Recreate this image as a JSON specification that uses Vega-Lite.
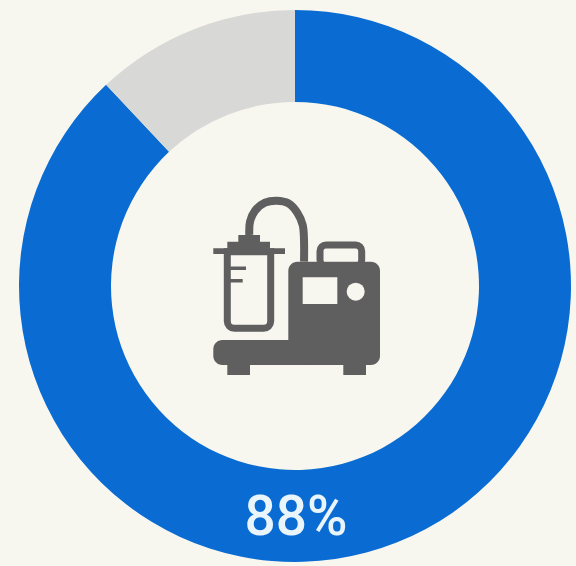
{
  "$schema": "https://vega.github.io/schema/vega-lite/v6.json",
  "width": 562,
  "height": 560,
  "padding": {"left": 14, "top": 6, "right": 0, "bottom": 0},
  "background": "#f8f7ef",
  "view": {"stroke": null},
  "datasets": {
    "share": [
      {"segment": "Yes", "percent": 88},
      {"segment": "No", "percent": 12}
    ],
    "label": [{"text": "88%", "px": 1, "py": 232}],
    "solid": [
      {"part": "pump", "x0": -6.7, "x1": 85, "y0": -24.3, "y1": 79},
      {"part": "base", "x0": -81.7, "x1": 20, "y0": 54, "y1": 79}
    ],
    "blocks": [
      {"part": "foot left", "x0": -67.7, "x1": -45, "y0": 76, "y1": 89},
      {"part": "foot right", "x0": 48.3, "x1": 71, "y0": 76, "y1": 89},
      {"part": "lid bar", "x0": -81.7, "x1": -10, "y0": -37.7, "y1": -32},
      {"part": "lid middle", "x0": -67.7, "x1": -25, "y0": -44.3, "y1": -37},
      {"part": "lid top", "x0": -56.7, "x1": -35, "y0": -51, "y1": -44},
      {"part": "level high", "x0": -65, "x1": -49, "y0": -19.5, "y1": -16},
      {"part": "level low", "x0": -65, "x1": -52.3, "y0": -7, "y1": -3.5}
    ],
    "screen": [{"part": "screen", "x0": 7.7, "x1": 42.3, "y0": -8.7, "y1": 18}],
    "knob": [{"part": "knob", "px": 60.7, "py": 5.7}],
    "handle": [{"part": "handle", "x0": 25, "x1": 66.7, "y0": -41, "y1": -20}],
    "jar": [{"part": "jar", "x0": -67.7, "x1": -24.3, "y0": -34.3, "y1": 42.3}],
    "tube": [
      {"step": 1, "px": -45.7, "py": -51},
      {"step": 2, "px": -45, "py": -64.3},
      {"step": 3, "px": -40, "py": -75.3},
      {"step": 4, "px": -30, "py": -83.3},
      {"step": 5, "px": -18.3, "py": -85.3},
      {"step": 6, "px": -6.7, "py": -82.7},
      {"step": 7, "px": 2.3, "py": -73.3},
      {"step": 8, "px": 7.7, "py": -61},
      {"step": 9, "px": 9, "py": -46},
      {"step": 10, "px": 9, "py": -24.3}
    ]
  },
  "layer": [
    {
      "data": {"name": "share"},
      "mark": {"type": "arc", "outerRadius": 276, "innerRadius": 184},
      "encoding": {
        "theta": {"field": "percent", "type": "quantitative", "stack": true},
        "order": {"field": "percent", "sort": "descending"},
        "color": {
          "field": "segment",
          "type": "nominal",
          "legend": null,
          "scale": {"domain": ["Yes", "No"], "range": ["#0a6cd2", "#d8d8d6"]}
        }
      }
    },
    {
      "data": {"name": "handle"},
      "mark": {"type": "rect", "fillOpacity": 0, "stroke": "#5f5f5f", "strokeWidth": 7, "cornerRadius": 6},
      "encoding": {
        "x": {"field": "x0", "type": "quantitative", "axis": null, "scale": {"domain": [-281, 281], "nice": false, "zero": false}},
        "x2": {"field": "x1"},
        "y": {"field": "y0", "type": "quantitative", "axis": null, "scale": {"domain": [280, -280], "nice": false, "zero": false}},
        "y2": {"field": "y1"}
      }
    },
    {
      "data": {"name": "tube"},
      "mark": {"type": "line", "interpolate": "catmull-rom", "stroke": "#5f5f5f", "strokeWidth": 8},
      "encoding": {
        "x": {"field": "px", "type": "quantitative"},
        "y": {"field": "py", "type": "quantitative"},
        "order": {"field": "step"}
      }
    },
    {
      "data": {"name": "jar"},
      "mark": {"type": "rect", "fillOpacity": 0, "stroke": "#5f5f5f", "strokeWidth": 7, "cornerRadiusBottomLeft": 7, "cornerRadiusBottomRight": 7},
      "encoding": {
        "x": {"field": "x0", "type": "quantitative"},
        "x2": {"field": "x1"},
        "y": {"field": "y0", "type": "quantitative"},
        "y2": {"field": "y1"}
      }
    },
    {
      "data": {"name": "blocks"},
      "mark": {"type": "rect", "fill": "#5f5f5f"},
      "encoding": {
        "x": {"field": "x0", "type": "quantitative"},
        "x2": {"field": "x1"},
        "y": {"field": "y0", "type": "quantitative"},
        "y2": {"field": "y1"}
      }
    },
    {
      "data": {"name": "solid"},
      "mark": {"type": "rect", "fill": "#5f5f5f", "cornerRadius": 9},
      "encoding": {
        "x": {"field": "x0", "type": "quantitative"},
        "x2": {"field": "x1"},
        "y": {"field": "y0", "type": "quantitative"},
        "y2": {"field": "y1"}
      }
    },
    {
      "data": {"name": "screen"},
      "mark": {"type": "rect", "fill": "#f8f7ef"},
      "encoding": {
        "x": {"field": "x0", "type": "quantitative"},
        "x2": {"field": "x1"},
        "y": {"field": "y0", "type": "quantitative"},
        "y2": {"field": "y1"}
      }
    },
    {
      "data": {"name": "knob"},
      "mark": {"type": "point", "shape": "circle", "filled": true, "opacity": 1, "fill": "#f8f7ef", "size": 324},
      "encoding": {
        "x": {"field": "px", "type": "quantitative"},
        "y": {"field": "py", "type": "quantitative"}
      }
    },
    {
      "data": {"name": "label"},
      "mark": {"type": "text", "font": "Roboto", "fontSize": 55, "fontWeight": 500, "fill": "#e9f5fb", "align": "center", "baseline": "middle"},
      "encoding": {
        "x": {"field": "px", "type": "quantitative"},
        "y": {"field": "py", "type": "quantitative"},
        "text": {"field": "text"}
      }
    }
  ],
  "resolve": {"scale": {"color": "independent"}}
}
